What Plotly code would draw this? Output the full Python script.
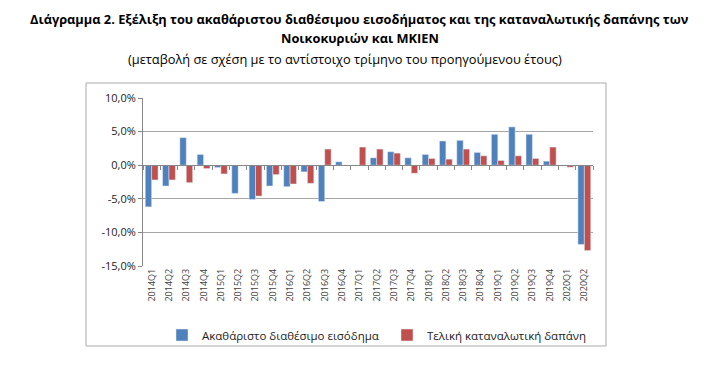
import plotly.graph_objects as go

categories = ["2014Q1","2014Q2","2014Q3","2014Q4","2015Q1","2015Q2","2015Q3","2015Q4",
              "2016Q1","2016Q2","2016Q3","2016Q4","2017Q1","2017Q2","2017Q3","2017Q4",
              "2018Q1","2018Q2","2018Q3","2018Q4","2019Q1","2019Q2","2019Q3","2019Q4",
              "2020Q1","2020Q2"]
income = [-6.2, -3.1, 4.1, 1.6, -0.35, -4.2, -5.1, -3.1,
          -3.2, -1.0, -5.4, 0.5, 0.0, 1.1, 2.0, 1.1,
          1.6, 3.6, 3.7, 1.9, 4.6, 5.7, 4.6, 0.6,
          0.0, -11.8]
consumption = [-2.2, -2.2, -2.6, -0.5, -1.3, -0.1, -4.6, -1.4,
               -2.8, -2.7, 2.4, 0.0, 2.7, 2.4, 1.8, -1.2,
               1.0, 0.9, 2.4, 1.4, 0.7, 1.4, 1.0, 2.7,
               -0.3, -12.7]
series_names = ["Ακαθάριστο διαθέσιμο εισόδημα", "Τελική καταναλωτική δαπάνη"]
yticks = [-15, -10, -5, 0, 5, 10]
ytick_labels = [f"{v:.1f}%".replace(".", ",") for v in yticks]

FONT = "Open Sans"
OFF = 8  # default page body margin
X0, X1, Y0, Y1 = 143, 593, 98, 266  # plot area in page pixels
L, T = X0 - OFF, Y0 - OFF
R = 719 - (X1 - OFF)
B = 368 - (Y1 - OFF)
PW, PH = X1 - X0, Y1 - Y0


def px(x):
    return (x - X0) / PW


def py(y):
    return (Y1 - y) / PH


fig = go.Figure()
fig.add_trace(go.Bar(x=categories, y=income, name=series_names[0], marker_color="#4F81BD",
                     legend="legend"))
fig.add_trace(go.Bar(x=categories, y=consumption, name=series_names[1], marker_color="#C0504D",
                     legend="legend2"))
# invisible trace to activate xaxis2 (zero-line category ticks)
fig.add_trace(go.Bar(x=categories, y=[None] * len(categories), xaxis="x2", showlegend=False,
                     hoverinfo="skip"))

legend_style = dict(orientation="h", xanchor="left", yanchor="middle", y=py(335),
                    font=dict(size=11.5, color="#222"), itemwidth=30,
                    bgcolor="rgba(0,0,0,0)")

fig.update_layout(
    width=719, height=368,
    margin=dict(l=L, r=R, t=T, b=B, autoexpand=False),
    paper_bgcolor="white", plot_bgcolor="white",
    barmode="group", bargap=0.26, bargroupgap=0.0,
    font=dict(family=FONT, color="#404040"),
    showlegend=True,
    legend=dict(x=px(162), **legend_style),
    legend2=dict(x=px(387), **legend_style),
    xaxis=dict(type="category", tickangle=-90, tickfont=dict(size=9, color="#404040"),
               showgrid=False, showline=False, ticks=""),
    xaxis2=dict(type="category", matches="x", overlaying="x", anchor="free", position=0.6,
                showticklabels=False, ticks="outside", tickson="boundaries", ticklen=4,
                tickcolor="#888", showline=True, linecolor="#888", linewidth=1, showgrid=False),
    yaxis=dict(range=[-15, 10], tickvals=yticks, ticktext=ytick_labels,
               tickfont=dict(size=11, color="#222"), showgrid=True, gridcolor="#A6A6A6",
               gridwidth=1, zeroline=False, showline=True, linecolor="#888", ticks="outside",
               ticklen=4, tickcolor="#888"),
    shapes=[dict(type="rect", xref="paper", yref="paper",
                 x0=px(86), x1=px(606), y0=py(346), y1=py(83),
                 line=dict(color="#ABABAB", width=1), fillcolor="rgba(0,0,0,0)", layer="above")],
    annotations=[
        dict(text="<b>Διάγραμμα 2. Εξέλιξη του ακαθάριστου διαθέσιμου εισοδήματος και της καταναλωτικής δαπάνης των</b>",
             xref="paper", yref="paper", x=px(359), y=py(19), showarrow=False,
             xanchor="center", yanchor="middle", font=dict(size=12.8, color="#000", family=FONT)),
        dict(text="<b>Νοικοκυριών και ΜΚΙΕΝ</b>",
             xref="paper", yref="paper", x=px(360), y=py(38), showarrow=False,
             xanchor="center", yanchor="middle", font=dict(size=12.8, color="#000", family=FONT)),
        dict(text="(μεταβολή σε σχέση με το αντίστοιχο τρίμηνο του προηγούμενου έτους)",
             xref="paper", yref="paper", x=px(345), y=py(59), showarrow=False,
             xanchor="center", yanchor="middle", font=dict(size=12.8, color="#000", family=FONT)),
    ],
)
fig.write_html("out.html")
